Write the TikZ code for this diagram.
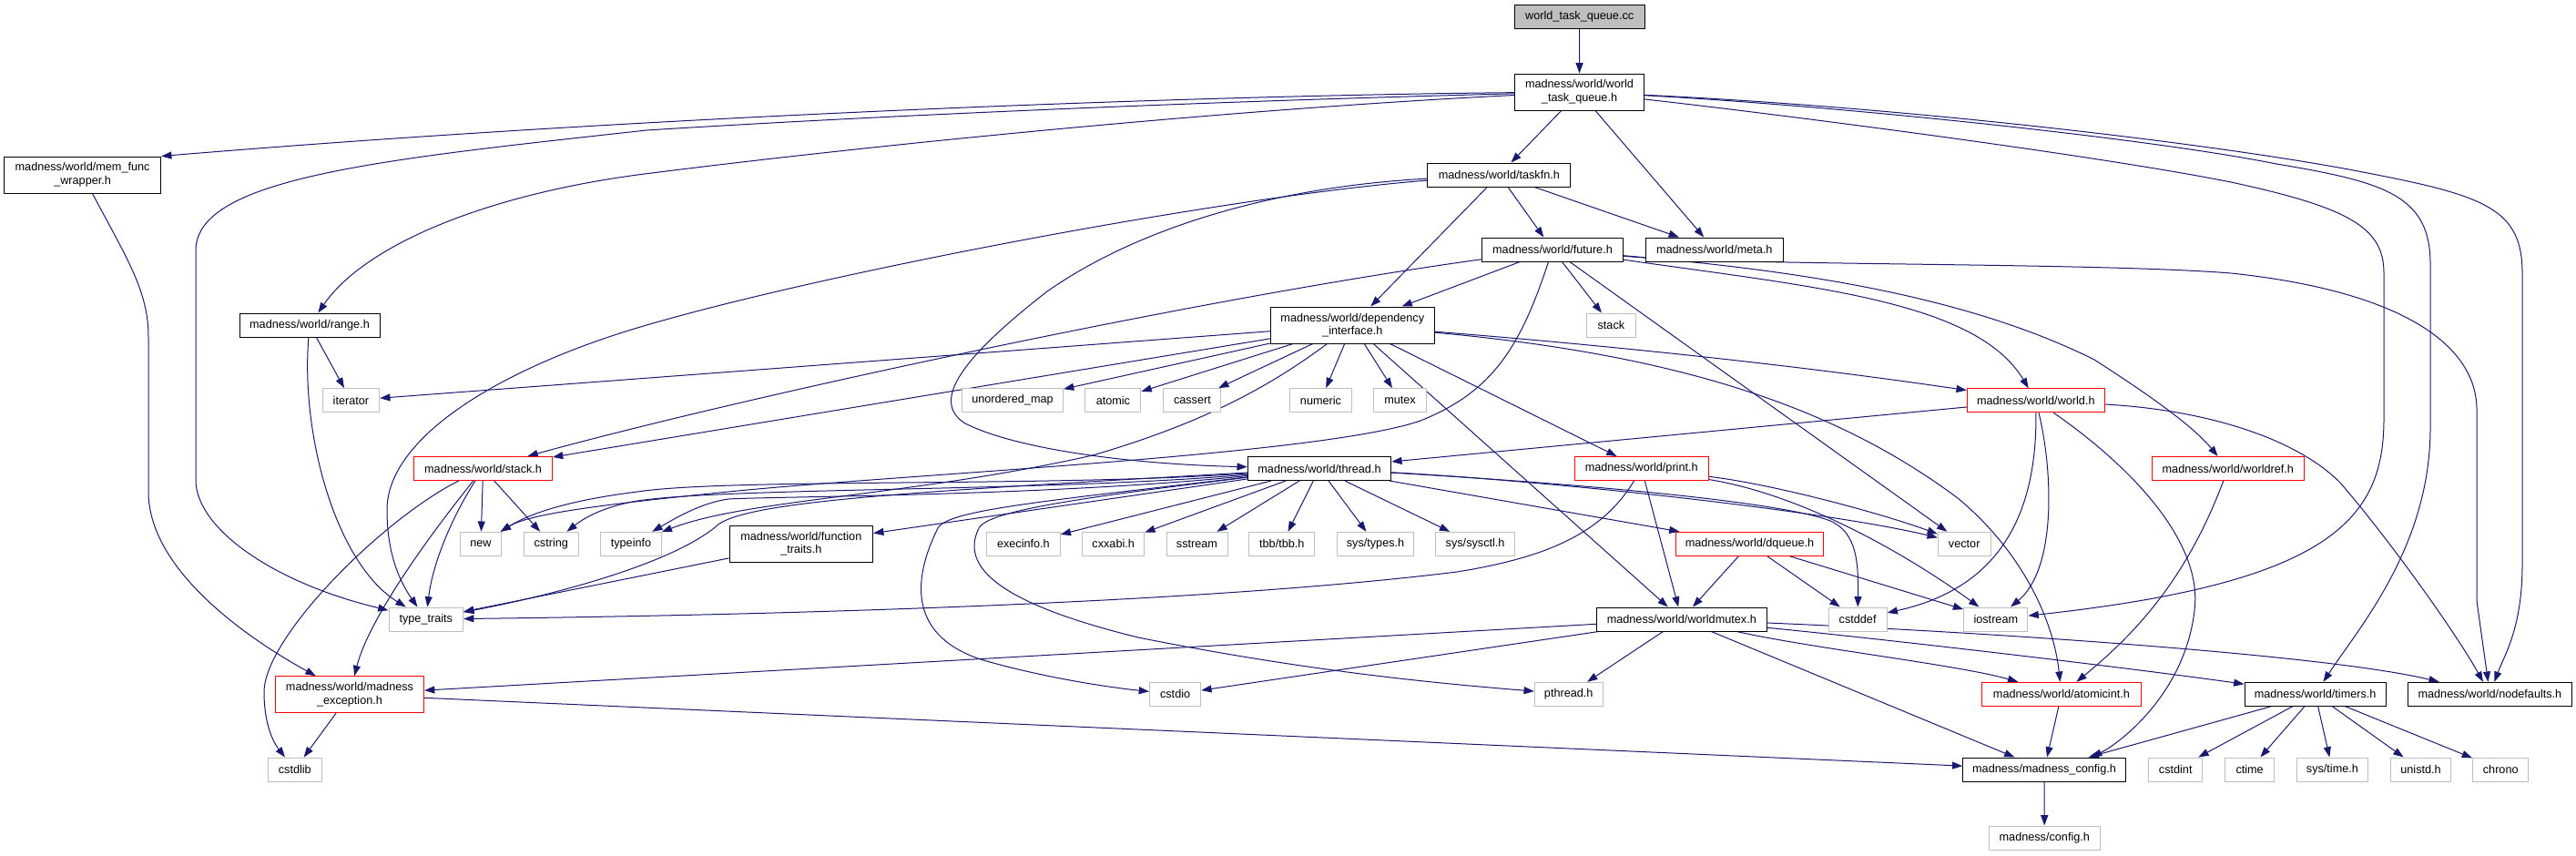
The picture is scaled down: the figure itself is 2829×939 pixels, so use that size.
\documentclass[tikz,border=0pt]{standalone}
\usepackage{fontspec}
\setmainfont{Liberation Sans}
\usetikzlibrary{arrows.meta}
\definecolor{edgec}{HTML}{191970}
\definecolor{grayb}{HTML}{BFBFBF}
\pgfdeclarelayer{bg}
\pgfsetlayers{bg,main}
\newcommand\nd[6]{\node[#1, minimum width=#4*0.75pt, minimum height=#5*0.75pt] (#2) at (#3) {#6};}
\begin{document}
\begin{tikzpicture}[x=0.75pt, y=-0.75pt,
  box/.style={draw=black, fill=white, line width=0.75pt, inner sep=0pt, align=center,
              font=\fontsize{9.5pt}{11pt}\selectfont},
  hdr/.style={box},
  redn/.style={box, draw=red},
  sysn/.style={box, draw=grayb},
  rootn/.style={box, fill=grayb},
  e/.style={draw=edgec, line width=0.75pt, -{Triangle[length=8.5pt,width=6pt]}}]
\useasboundingbox (0,0) rectangle (2829,939);
% rank 0-3
\nd{rootn}{cc}{1734.7,18.5}{143}{26}{world\_task\_queue.cc}
\nd{hdr}{wtq}{1734.5,101}{142}{40}{madness/world/world\\\_task\_queue.h}
\nd{hdr}{mfw}{90.6,192}{172}{40}{madness/world/mem\_func\\\_wrapper.h}
\nd{hdr}{taskfn}{1646.4,192}{157}{26}{madness/world/taskfn.h}
\nd{hdr}{future}{1705,274}{155}{26}{madness/world/future.h}
\nd{hdr}{meta}{1882.8,274}{151}{26}{madness/world/meta.h}
% rank 4
\nd{hdr}{range}{340,357}{154}{26}{madness/world/range.h}
\nd{hdr}{dep}{1485.3,357}{180}{40}{madness/world/dependency\\\_interface.h}
\nd{sysn}{stack}{1769.4,357}{54}{26}{stack}
% rank 5
\nd{sysn}{iterator}{385.4,439.6}{62.5}{26}{iterator}
\nd{sysn}{umap}{1112,439.6}{111}{26}{unordered\_map}
\nd{sysn}{atomic}{1222.4,439.6}{61}{26}{atomic}
\nd{sysn}{cassert}{1309.4,439.6}{63}{26}{cassert}
\nd{sysn}{numeric}{1450.5,439.6}{68.4}{26}{numeric}
\nd{sysn}{mutex}{1537.5,439.6}{57.5}{26}{mutex}
\nd{redn}{world}{2235.8,439.8}{151}{26}{madness/world/world.h}
% rank 6
\nd{redn}{stackh}{530.6,514.5}{151.7}{26}{madness/world/stack.h}
\nd{hdr}{thread}{1449,514.5}{157.4}{26}{madness/world/thread.h}
\nd{redn}{print}{1802.7,514.5}{146.7}{26}{madness/world/print.h}
\nd{redn}{worldref}{2446.8,514.5}{166.4}{26}{madness/world/worldref.h}
% rank 7
\nd{sysn}{nnew}{528,597.3}{45.3}{26}{new}
\nd{sysn}{cstring}{605.3,597.3}{60}{26}{cstring}
\nd{sysn}{typeinfo}{693,597.3}{66.4}{26}{typeinfo}
\nd{hdr}{ftraits}{879.8,597}{157.6}{40}{madness/world/function\\\_traits.h}
\nd{sysn}{execinfo}{1123.9,597.3}{80.6}{26}{execinfo.h}
\nd{sysn}{cxxabi}{1222.7,597.3}{68}{26}{cxxabi.h}
\nd{sysn}{sstream}{1314.5,597.3}{67}{26}{sstream}
\nd{sysn}{tbb}{1407.8,597.3}{72.2}{26}{tbb/tbb.h}
\nd{sysn}{systypes}{1510.5,597.3}{84.2}{26}{sys/types.h}
\nd{sysn}{syssysctl}{1620.1,597.3}{87}{26}{sys/sysctl.h}
\nd{redn}{dqueue}{1921.5,597.3}{162.6}{26}{madness/world/dqueue.h}
\nd{sysn}{vector}{2157.2,597.3}{57.7}{26}{vector}
% rank 8
\nd{sysn}{tt}{467.8,680}{81.5}{26}{type\_traits}
\nd{hdr}{worldmutex}{1846.8,680}{187}{26}{madness/world/worldmutex.h}
\nd{sysn}{cstddef}{2040.1,680}{64}{26}{cstddef}
\nd{sysn}{iostream}{2191.8,680}{70.2}{26}{iostream}
% rank 9
\nd{redn}{mexc}{384,762.7}{163}{40}{madness/world/madness\\\_exception.h}
\nd{sysn}{cstdio}{1290.6,762.3}{56.2}{26}{cstdio}
\nd{sysn}{pthread}{1722.7,762.3}{74.7}{26}{pthread.h}
\nd{redn}{atomicint}{2263.9,762.3}{174.3}{26}{madness/world/atomicint.h}
\nd{hdr}{timers}{2542.6,762.3}{155.2}{26}{madness/world/timers.h}
\nd{hdr}{nodefaults}{2734.4,762.3}{180}{26}{madness/world/nodefaults.h}
% rank 10
\nd{sysn}{cstdlib}{323.8,845}{59}{26}{cstdlib}
\nd{hdr}{mconfig}{2245,845}{178.5}{26}{madness/madness\_config.h}
\nd{sysn}{cstdint}{2389.2,845}{59.5}{26}{cstdint}
\nd{sysn}{ctime}{2470.6,845}{54}{26}{ctime}
\nd{sysn}{systime}{2561.4,845}{78.6}{26}{sys/time.h}
\nd{sysn}{unistd}{2658.5,845}{66.5}{26}{unistd.h}
\nd{sysn}{chrono}{2746.2,845}{61.4}{26}{chrono}
% rank 11
\nd{sysn}{config}{2245.3,920}{121.4}{26}{madness/config.h}

\begin{pgfonlayer}{bg}
% world_task_queue
\draw[e] (cc) -- (wtq);
\draw[e] (wtq) .. controls (1300,105) and (700,128) .. (mfw.north east);
\draw[e] (wtq) .. controls (1300,112) and (950,128) .. (710,143) .. controls (420,175) and (215,195) .. (215,275) -- (215,527) .. controls (215,580) and (300,640) .. (tt);
\draw[e] (wtq) .. controls (1350,120) and (950,160) .. (700,192) .. controls (530,215) and (400,270) .. (range);
\draw[e] (wtq) -- (taskfn);
\draw[e] (wtq) -- (meta);
\draw[e] (wtq) .. controls (1950,125) and (2300,170) .. (2450,200) .. controls (2580,228) and (2618,250) .. (2618,300) -- (2618,460) .. controls (2618,570) and (2560,640) .. (iostream);
\draw[e] (wtq) .. controls (2000,115) and (2350,150) .. (2500,180) .. controls (2620,200) and (2669,215) .. (2669,290) -- (2669,470) .. controls (2669,600) and (2590,690) .. (timers);
\draw[e] (wtq) .. controls (2100,118) and (2450,160) .. (2600,190) .. controls (2730,215) and (2770,230) .. (2770,300) -- (2770,620) .. controls (2770,690) and (2750,720) .. (nodefaults);
% mem_func_wrapper, range
\draw[e] (mfw) .. controls (140,285) and (163,320) .. (163,370) -- (163,540) .. controls (163,625) and (270,700) .. (mexc);
\draw[e] (range) -- (iterator);
\draw[e] (range) .. controls (330,480) and (370,620) .. (tt);
% taskfn
\draw[e] (taskfn) -- (future);
\draw[e] (taskfn) -- (meta);
\draw[e] (taskfn) -- (dep);
\draw[e] (taskfn) .. controls (1400,205) and (1250,250) .. (1150,320) .. controls (1060,390) and (1020,440) .. (1060,465) .. controls (1120,495) and (1250,510) .. (thread);
\draw[e] (taskfn) .. controls (1350,215) and (900,300) .. (700,360) .. controls (550,405) and (425,480) .. (425,560) .. controls (425,610) and (440,640) .. (tt);
% future
\draw[e] (future) -- (dep);
\draw[e] (future) -- (stack);
\draw[e] (future) .. controls (1300,330) and (800,440) .. (stackh);
\draw[e] (future) .. controls (1670,380) and (1640,430) .. (1560,462) .. controls (1450,500) and (1000,520) .. (800,540) .. controls (650,555) and (580,565) .. (nnew);
\draw[e] (future) -- (vector);
\draw[e] (future) .. controls (1990,315) and (2170,330) .. (world);
\draw[e] (future) .. controls (1950,295) and (2150,320) .. (2300,395) .. controls (2370,440) and (2410,470) .. (worldref);
\draw[e] (future) .. controls (1900,292) and (2300,288) .. (2450,300) .. controls (2640,320) and (2720,380) .. (2720,450) -- (2720,660) -- (nodefaults);
% dependency_interface
\draw[e] (dep) -- (iterator);
\draw[e] (dep) -- (stackh);
\draw[e] (dep) -- (umap);
\draw[e] (dep) -- (atomic);
\draw[e] (dep) -- (cassert);
\draw[e] (dep) -- (numeric);
\draw[e] (dep) -- (mutex);
\draw[e] (dep) .. controls (1400,420) and (1330,462) .. (1200,500) .. controls (1000,545) and (820,548) .. (typeinfo);
\draw[e] (dep) -- (worldmutex);
\draw[e] (dep) -- (print);
\draw[e] (dep) .. controls (1800,382) and (2000,405) .. (world);
\draw[e] (dep) .. controls (1850,390) and (2020,450) .. (2150,547) .. controls (2220,605) and (2255,680) .. (atomicint);
% world
\draw[e] (world) -- (thread);
\draw[e] (world) .. controls (2237,560) and (2200,645) .. (cstddef);
\draw[e] (world) .. controls (2255,520) and (2258,625) .. (iostream);
\draw[e] (world) .. controls (2330,505) and (2420,590) .. (2410,670) .. controls (2400,760) and (2330,815) .. ([xshift=39pt]mconfig.north);
\draw[e] (world) .. controls (2420,450) and (2520,480) .. (2570,530) .. controls (2630,600) and (2700,700) .. (nodefaults);
% stack.h
\draw[e] (stackh) -- (nnew);
\draw[e] (stackh) -- (cstring);
\draw[e] (stackh) .. controls (420,570) and (290,700) .. (290,760) .. controls (290,795) and (300,815) .. (cstdlib);
\draw[e] (stackh) .. controls (470,590) and (405,680) .. (mexc);
\draw[e] (stackh) .. controls (495,570) and (475,620) .. (tt);
% thread
\draw[e] (thread) .. controls (1150,535) and (800,525) .. (700,540) .. controls (620,550) and (580,565) .. (nnew);
\draw[e] (thread) .. controls (1150,540) and (800,535) .. (700,550) .. controls (660,557) and (640,570) .. (cstring);
\draw[e] (thread) .. controls (1150,545) and (850,545) .. (800,548) .. controls (770,552) and (740,570) .. (typeinfo);
\draw[e] (thread) .. controls (1000,540) and (830,550) .. (790,575) .. controls (740,620) and (600,655) .. (tt);
\draw[e] (thread) -- (ftraits);
\draw[e] (thread) -- (execinfo);
\draw[e] (thread) -- (cxxabi);
\draw[e] (thread) -- (sstream);
\draw[e] (thread) -- (tbb);
\draw[e] (thread) -- (systypes);
\draw[e] (thread) -- (syssysctl);
\draw[e] (thread) -- (dqueue);
\draw[e] (thread) .. controls (1150,550) and (1040,560) .. (1030,580) .. controls (1000,640) and (1000,700) .. (1080,725) .. controls (1150,745) and (1220,755) .. (cstdio);
\draw[e] (thread) .. controls (1200,545) and (1085,560) .. (1075,580) .. controls (1050,630) and (1120,668) .. (1250,700) .. controls (1450,740) and (1600,752) .. (pthread);
\draw[e] (thread) .. controls (1700,528) and (2000,560) .. (vector);
\draw[e] (thread) .. controls (1750,532) and (1960,552) .. (2010,572) .. controls (2040,585) and (2041,620) .. (cstddef);
% print
\draw[e] (print) .. controls (1760,585) and (1700,612) .. (1600,628) .. controls (1300,665) and (800,676) .. (tt);
\draw[e] (print) -- (worldmutex);
\draw[e] (print) .. controls (1950,532) and (2070,565) .. (vector);
\draw[e] (print) .. controls (1990,545) and (2110,620) .. (iostream);
% worldref, function_traits, dqueue
\draw[e] (worldref) .. controls (2400,640) and (2340,700) .. (atomicint);
\draw[e] (ftraits) -- (tt);
\draw[e] (dqueue) -- (worldmutex);
\draw[e] (dqueue) -- (cstddef);
\draw[e] (dqueue) -- (iostream);
% worldmutex
\draw[e] (worldmutex) -- (mexc);
\draw[e] (worldmutex) -- (cstdio);
\draw[e] (worldmutex) -- (pthread);
\draw[e] (worldmutex) -- (mconfig);
\draw[e] (worldmutex) .. controls (1990,712) and (2150,730) .. (atomicint);
\draw[e] (worldmutex) .. controls (2100,705) and (2350,735) .. (timers);
\draw[e] (worldmutex) .. controls (2200,695) and (2560,720) .. (nodefaults);
% lower
\draw[e] (mexc) -- (cstdlib);
\draw[e] (mexc) -- (mconfig);
\draw[e] (atomicint) -- (mconfig);
\draw[e] (timers) -- (mconfig);
\draw[e] (timers) -- (cstdint);
\draw[e] (timers) -- (ctime);
\draw[e] (timers) -- (systime);
\draw[e] (timers) -- (unistd);
\draw[e] (timers) -- (chrono);
\draw[e] (mconfig) -- (config);
\end{pgfonlayer}
\end{tikzpicture}
\end{document}
